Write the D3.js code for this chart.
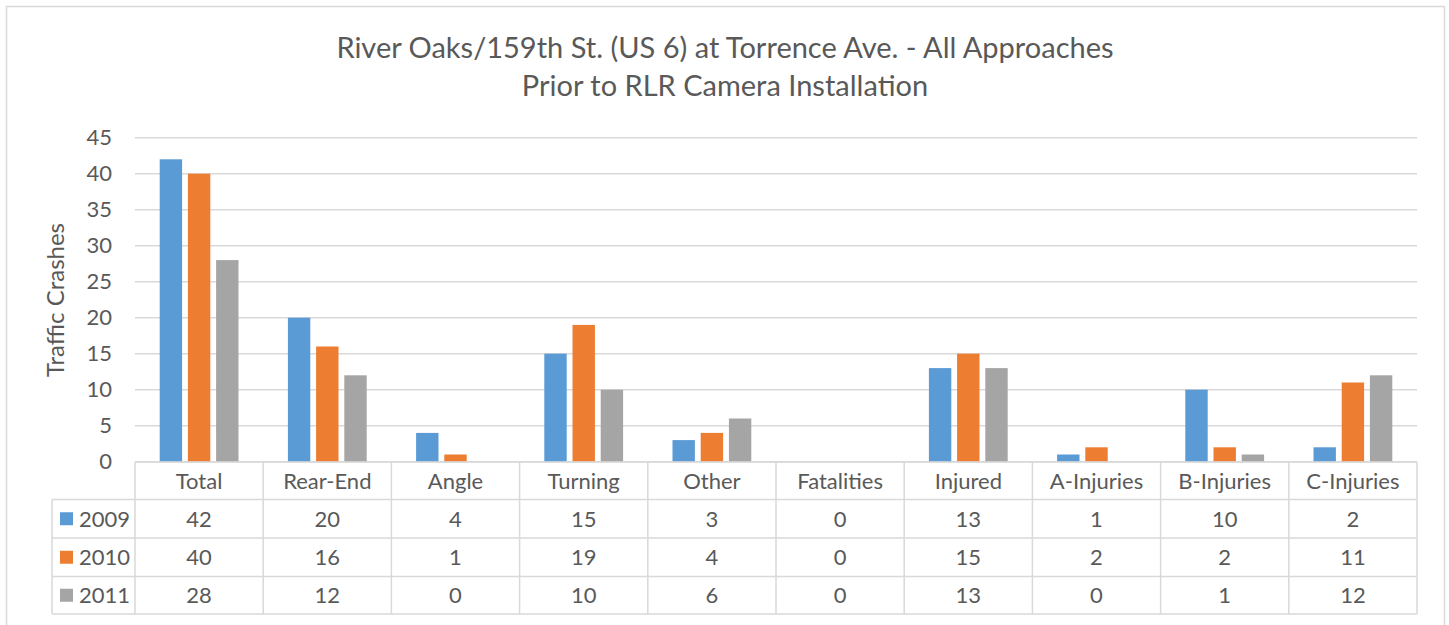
<!DOCTYPE html>
<html>
<head>
<meta charset="utf-8">
<script src="https://cdn.jsdelivr.net/npm/d3@7"></script>
<style>
  body { margin: 0; background: #fff; }
  text { font-family: Lato, "Open Sans", sans-serif; fill: #595959; }
</style>
</head>
<body>
<svg id="chart" width="1449" height="625"></svg>
<script>
// crash counts by type, one array per year
var categories = ["Total", "Rear-End", "Angle", "Turning", "Other", "Fatalities", "Injured", "A-Injuries", "B-Injuries", "C-Injuries"];
var years = ["2009", "2010", "2011"];
var values2009 = [42, 20, 4, 15, 3, 0, 13, 1, 10, 2];
var values2010 = [40, 16, 1, 19, 4, 0, 15, 2, 2, 11];
var values2011 = [28, 12, 0, 10, 6, 0, 13, 0, 1, 12];
var yTicks = [0, 5, 10, 15, 20, 25, 30, 35, 40, 45];
var colors = ["#5B9BD5", "#ED7D31", "#A5A5A5"];
var titleLines = ["River Oaks/159th St. (US 6) at Torrence Ave. - All Approaches", "Prior to RLR Camera Installation"];

var series = [values2009, values2010, values2011];
var grid = "#D9D9D9";

var svg = d3.select("#chart");

// outer chart border (bottom runs off the picture)
svg.append("rect")
  .attr("x", 6.5).attr("y", 6.5)
  .attr("width", 1438).attr("height", 640)
  .attr("fill", "#fff")
  .attr("stroke", grid).attr("stroke-width", 1.5);

// note: don't call this "top", window.top is read-only
var plotLeft = 135, plotRight = 1417, plotTop = 137.7, zeroY = 461.7;

var x = d3.scaleBand().domain(categories).range([plotLeft, plotRight]);
var xInner = d3.scaleBand().domain(years).range([0, 78.8]).paddingInner(0.206);
var y = d3.scaleLinear().domain([0, 45]).range([zeroY, plotTop]);

// title
svg.append("text")
  .attr("x", 725).attr("y", 58)
  .attr("text-anchor", "middle")
  .style("font-size", "29px")
  .selectAll("tspan").data(titleLines).enter().append("tspan")
    .attr("x", 725)
    .attr("dy", function(d, i) { return i == 0 ? 0 : 38; })
    .text(function(d) { return d; });

// gridlines
svg.append("g").selectAll("line").data(yTicks).enter().append("line")
  .attr("x1", plotLeft).attr("x2", plotRight)
  .attr("y1", function(d) { return y(d); })
  .attr("y2", function(d) { return y(d); })
  .attr("stroke", grid).attr("stroke-width", 1.5);

// y axis labels
var yAxis = d3.axisLeft(y).tickValues(yTicks).tickSize(0).tickPadding(0);
var yg = svg.append("g").attr("transform", "translate(112,0)").call(yAxis);
yg.select(".domain").remove();
yg.selectAll("text")
  .style("font-size", "22px")
  .style("font-family", "Lato, 'Open Sans', sans-serif")
  .attr("fill", "#595959");

svg.append("text")
  .attr("transform", "translate(64,300) rotate(-90)")
  .attr("text-anchor", "middle")
  .style("font-size", "24px")
  .text("Traffic Crashes");

// bars
var barData = [];
series.forEach(function(vals, s) {
  vals.forEach(function(v, c) {
    barData.push({cat: categories[c], year: years[s], value: v, s: s});
  });
});

svg.append("g").selectAll("rect").data(barData).enter().append("rect")
  .attr("x", function(d) { return x(d.cat) + x.bandwidth() / 2 - 39.4 + xInner(d.year); })
  .attr("width", xInner.bandwidth())
  .attr("y", function(d) { return y(d.value); })
  .attr("height", function(d) { return zeroY - y(d.value); })
  .attr("fill", function(d) { return colors[d.s]; });

// data table
var rowTops = [462, 499.5, 538, 576.5, 614];
var legendLeft = 52;
var table = svg.append("g").attr("stroke", grid).attr("stroke-width", 1.5);

// horizontal lines
table.append("line").attr("x1", plotLeft).attr("x2", plotRight).attr("y1", rowTops[0]).attr("y2", rowTops[0]);
rowTops.slice(1).forEach(function(ry) {
  table.append("line").attr("x1", legendLeft).attr("x2", plotRight).attr("y1", ry).attr("y2", ry);
});
// vertical lines
categories.forEach(function(c) {
  table.append("line").attr("x1", x(c)).attr("x2", x(c)).attr("y1", rowTops[0]).attr("y2", rowTops[4]);
});
table.append("line").attr("x1", plotRight).attr("x2", plotRight).attr("y1", rowTops[0]).attr("y2", rowTops[4]);
table.append("line").attr("x1", legendLeft).attr("x2", legendLeft).attr("y1", rowTops[1]).attr("y2", rowTops[4]);

// header labels
svg.append("g").selectAll("text").data(categories).enter().append("text")
  .attr("x", function(d) { return x(d) + x.bandwidth() / 2; })
  .attr("y", (rowTops[0] + rowTops[1]) / 2)
  .attr("dy", "0.36em")
  .attr("text-anchor", "middle")
  .style("font-size", "22px")
  .text(function(d) { return d; });

// value rows
series.forEach(function(vals, s) {
  var cy = (rowTops[s + 1] + rowTops[s + 2]) / 2;
  var row = svg.append("g");
  row.append("rect")
    .attr("x", 60).attr("y", cy - 6.5)
    .attr("width", 13).attr("height", 13)
    .attr("fill", colors[s]);
  row.append("text")
    .attr("x", 79).attr("y", cy).attr("dy", "0.36em")
    .style("font-size", "22px")
    .text(years[s]);
  row.selectAll("text.val").data(vals).enter().append("text")
    .attr("class", "val")
    .attr("x", function(d, i) { return x(categories[i]) + x.bandwidth() / 2; })
    .attr("y", cy).attr("dy", "0.36em")
    .attr("text-anchor", "middle")
    .style("font-size", "22px")
    .text(function(d) { return d; });
});
</script>
</body>
</html>
